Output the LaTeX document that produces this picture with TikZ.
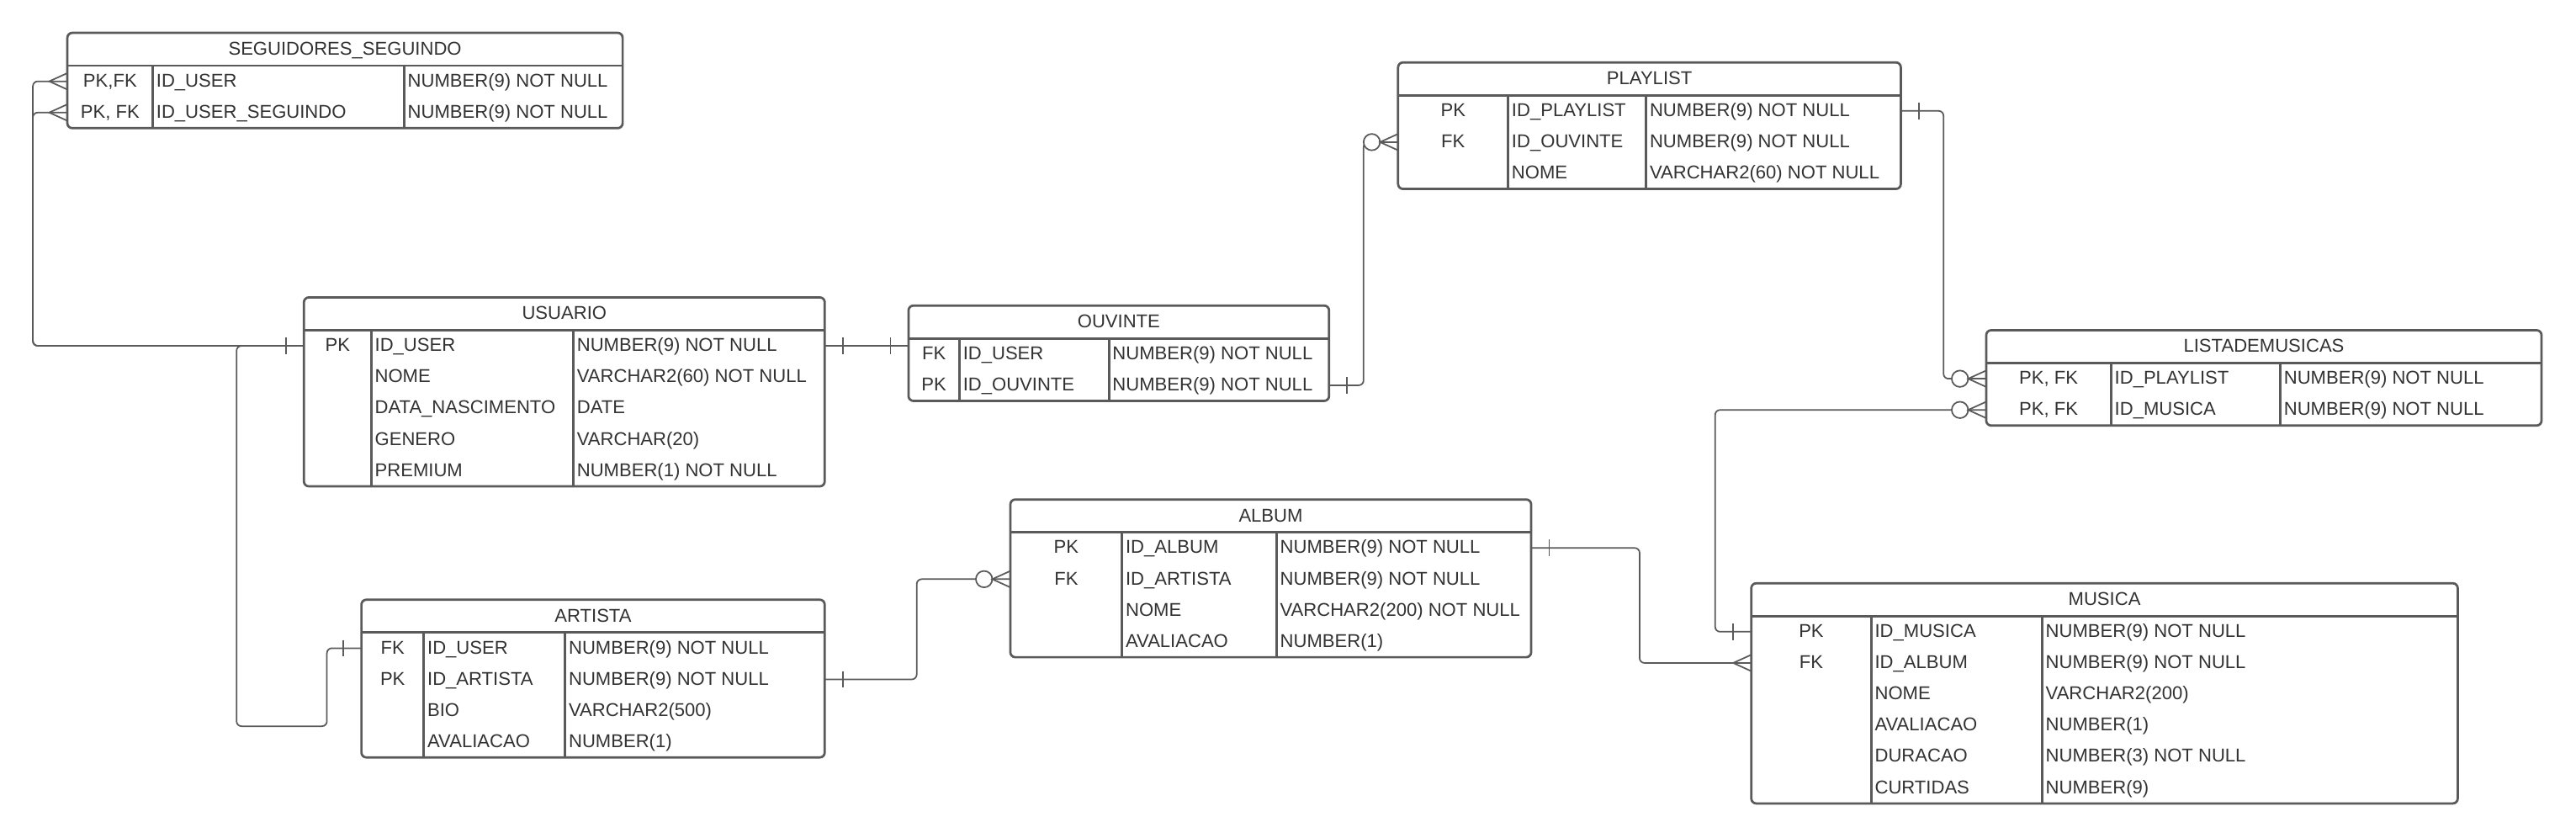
\documentclass[tikz,border=0pt]{standalone}
\usepackage{fontspec}
\setmainfont{Liberation Sans}
\usetikzlibrary{calc}
\definecolor{lc}{RGB}{90,90,90}
\definecolor{tc}{RGB}{51,51,51}
\tikzset{
 tbl/.style={draw=lc, line width=1.4pt, rounded corners=3pt, fill=white, inner sep=0pt, outer sep=0pt},
 inner line/.style={draw=lc, line width=1.4pt},
 txt/.style={inner sep=0pt, text height=8pt, text depth=0pt, text=tc, font=\fontsize{11.3}{13}\selectfont},
 conn/.style={draw=lc, line width=0.9pt, rounded corners=3pt},
 mark line/.style={draw=lc, line width=0.9pt},
}
\def\erHH{20}
\def\erRH{19}
\newcommand\ertable[8]{%
 \pgfmathsetmacro\erW{#4-#2}%
 \pgfmathsetmacro\erH{\erHH+\erRH*#7}%
 \node[tbl, anchor=north west, minimum width=\erW pt, minimum height=\erH pt] (#1) at (#2,#3) {};%
 \pgfmathsetmacro\erYh{#3+\erHH}%
 \pgfmathsetmacro\erYb{#3+\erH}%
 \draw[inner line] (#2,\erYh) -- (#4,\erYh);%
 \draw[inner line] (#5,\erYh) -- (#5,\erYb);%
 \draw[inner line] (#6,\erYh) -- (#6,\erYb);%
 \node[txt] (#1-title) at ({(#2+#4)/2},{#3+\erHH/2-0.5}) {#8};%
 \xdef\erX{#2}\xdef\erXr{#4}\xdef\erDa{#5}\xdef\erDb{#6}\xdef\erId{#1}\xdef\erY{\erYh}%
}
\newcommand\errow[4]{%
 \pgfmathsetmacro\erRy{\erY+\erRH*(#1-0.5)}%
 \pgfmathsetmacro\erTy{\erRy-0.6}%
 \node[txt] (\erId-k#1) at ({(\erX+\erDa)/2},\erTy) {#2};%
 \node[txt, anchor=west] (\erId-f#1) at ({\erDa+2},\erTy) {#3};%
 \node[txt, anchor=west] (\erId-t#1) at ({\erDb+2},\erTy) {#4};%
 \coordinate (\erId-w#1) at (\erX,\erRy);%
 \coordinate (\erId-e#1) at (\erXr,\erRy);%
}
\newcommand\tickW[1]{\draw[mark line] ($(#1)+(-11,-5)$) -- ($(#1)+(-11,5)$);}
\newcommand\tickE[1]{\draw[mark line] ($(#1)+(11,-5)$) -- ($(#1)+(11,5)$);}
\newcommand\crowW[1]{\draw[mark line] ($(#1)+(0,-5)$) -- ($(#1)+(-11,0)$) -- ($(#1)+(0,5)$);}
\newcommand\zeroW[1]{\draw[mark line, fill=white] ($(#1)+(-16,0)$) circle[radius=5];}
\begin{document}
\begin{tikzpicture}[x=1pt,y=-1pt]
\fill[white] (0,0) rectangle (1568,510);
\path[use as bounding box] (0,0) rectangle (1568,510);

\ertable{seg}{41}{20}{379}{93}{246}{2}{SEGUIDORES\_SEGUINDO}
\errow{1}{PK,FK}{ID\_USER}{NUMBER(9) NOT NULL}
\errow{2}{PK, FK}{ID\_USER\_SEGUINDO}{NUMBER(9) NOT NULL}

\ertable{pl}{851}{38}{1157}{918}{1002}{3}{PLAYLIST}
\errow{1}{PK}{ID\_PLAYLIST}{NUMBER(9) NOT NULL}
\errow{2}{FK}{ID\_OUVINTE}{NUMBER(9) NOT NULL}
\errow{3}{}{NOME}{VARCHAR2(60) NOT NULL}

\ertable{usu}{185}{181}{502}{226}{349}{5}{USUARIO}
\errow{1}{PK}{ID\_USER}{NUMBER(9) NOT NULL}
\errow{2}{}{NOME}{VARCHAR2(60) NOT NULL}
\errow{3}{}{DATA\_NASCIMENTO}{DATE}
\errow{4}{}{GENERO}{VARCHAR(20)}
\errow{5}{}{PREMIUM}{NUMBER(1) NOT NULL}

\ertable{ouv}{553}{186}{809}{584}{675}{2}{OUVINTE}
\errow{1}{FK}{ID\_USER}{NUMBER(9) NOT NULL}
\errow{2}{PK}{ID\_OUVINTE}{NUMBER(9) NOT NULL}

\ertable{lm}{1209}{201}{1547}{1285}{1388}{2}{LISTADEMUSICAS}
\errow{1}{PK, FK}{ID\_PLAYLIST}{NUMBER(9) NOT NULL}
\errow{2}{PK, FK}{ID\_MUSICA}{NUMBER(9) NOT NULL}

\ertable{al}{615}{304}{932}{683}{777}{4}{ALBUM}
\errow{1}{PK}{ID\_ALBUM}{NUMBER(9) NOT NULL}
\errow{2}{FK}{ID\_ARTISTA}{NUMBER(9) NOT NULL}
\errow{3}{}{NOME}{VARCHAR2(200) NOT NULL}
\errow{4}{}{AVALIACAO}{NUMBER(1)}

\ertable{art}{220}{365}{502}{258}{344}{4}{ARTISTA}
\errow{1}{FK}{ID\_USER}{NUMBER(9) NOT NULL}
\errow{2}{PK}{ID\_ARTISTA}{NUMBER(9) NOT NULL}
\errow{3}{}{BIO}{VARCHAR2(500)}
\errow{4}{}{AVALIACAO}{NUMBER(1)}

\ertable{mu}{1066}{355}{1496}{1139}{1243}{6}{MUSICA}
\errow{1}{PK}{ID\_MUSICA}{NUMBER(9) NOT NULL}
\errow{2}{FK}{ID\_ALBUM}{NUMBER(9) NOT NULL}
\errow{3}{}{NOME}{VARCHAR2(200)}
\errow{4}{}{AVALIACAO}{NUMBER(1)}
\errow{5}{}{DURACAO}{NUMBER(3) NOT NULL}
\errow{6}{}{CURTIDAS}{NUMBER(9)}

% connectors
\coordinate (jA) at (20,0);
\draw[conn] (usu-w1) -- (usu-w1 -| jA) -- (jA |- seg-w1) -- (seg-w1);
\draw[conn] (usu-w1) -- (usu-w1 -| jA) -- (jA |- seg-w2) -- (seg-w2);
\coordinate (jB) at (144,442);
\coordinate (jC) at (199,442);
\draw[conn] (usu-w1) -- (usu-w1 -| jB) -- (jB) -- (jC) -- (jC |- art-w1) -- (art-w1);
\coordinate (ouvA) at (usu-e1 -| ouv.west);
\draw[conn] (usu-e1) -- (ouvA);
\coordinate (jD) at (830,0);
\draw[conn] (ouv-e2) -- (ouv-e2 -| jD) -- (jD |- pl-w2) -- (pl-w2);
\coordinate (jE) at (1183,0);
\draw[conn] (pl-e1) -- (pl-e1 -| jE) -- (jE |- lm-w1) -- (lm-w1);
\coordinate (jF) at (1044,0);
\draw[conn] (lm-w2) -- (lm-w2 -| jF) -- (jF |- mu-w1) -- (mu-w1);
\coordinate (jG) at (998,0);
\draw[conn] (al-e1) -- (al-e1 -| jG) -- (jG |- mu-w2) -- (mu-w2);
\coordinate (jH) at (558,0);
\draw[conn] (art-e2) -- (art-e2 -| jH) -- (jH |- al-w2) -- (al-w2);

% ends
\crowW{seg-w1} \crowW{seg-w2} \tickW{usu-w1}
\tickW{art-w1}
\tickE{usu-e1} \tickW{ouvA}
\tickE{ouv-e2} \zeroW{pl-w2} \crowW{pl-w2}
\tickE{pl-e1} \zeroW{lm-w1} \crowW{lm-w1}
\zeroW{lm-w2} \crowW{lm-w2} \tickW{mu-w1}
\tickE{al-e1} \crowW{mu-w2}
\tickE{art-e2} \zeroW{al-w2} \crowW{al-w2}
\end{tikzpicture}
\end{document}
